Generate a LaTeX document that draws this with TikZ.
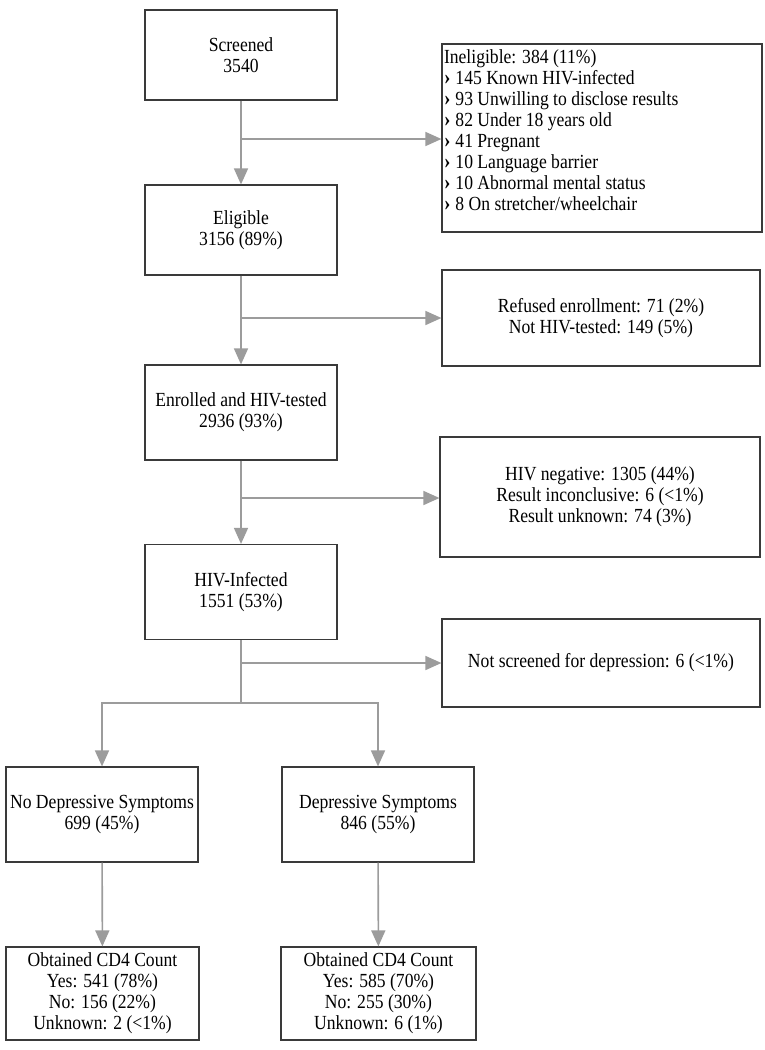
\documentclass[tikz,border=0pt]{standalone}
\usepackage{fontspec}
\setmainfont{Liberation Serif}[FakeStretch=0.88]
\usetikzlibrary{arrows.meta}
\definecolor{linegrey}{HTML}{9C9C9C}
\definecolor{boxline}{HTML}{3A3A3A}
\newcommand{\chev}{{\bfseries\fontsize{22}{21}\selectfont ›}\hspace{5pt}}
\begin{document}
\begin{tikzpicture}[x=1pt,y=-1pt,
  box/.style={draw=boxline,line width=1.2pt,align=center,inner sep=0pt,font=\fontsize{20}{21}\selectfont},
  conn/.style={draw=linegrey,line width=1.6pt},
  arr/.style={conn,-{Triangle[length=16pt,width=14pt,fill=linegrey]}}]
\useasboundingbox[fill=white] (0,0) rectangle (765,1050);

\node[box,minimum width=192pt,minimum height=90pt] (scr) at (241,55) {Screened\\3540};
\node[box,minimum width=320pt,minimum height=188pt] (inel) at (602,138)
  {\begin{minipage}[c][176pt][t]{316pt}\raggedright
   Ineligible: 384 (11\%)\\
   \chev 145 Known HIV-infected\\
   \chev 93 Unwilling to disclose results\\
   \chev 82 Under 18 years old\\
   \chev 41 Pregnant\\
   \chev 10 Language barrier\\
   \chev 10 Abnormal mental status\\
   \chev 8 On stretcher/wheelchair
   \end{minipage}};
\node[box,minimum width=192pt,minimum height=90pt] (elig) at (241,230) {Eligible\\3156 (89\%)};
\node[box,minimum width=318pt,minimum height=96pt] (ref) at (601,318) {Refused enrollment: 71 (2\%)\\Not HIV-tested: 149 (5\%)};
\node[box,minimum width=192pt,minimum height=95pt] (enr) at (241,412.5) {Enrolled and HIV-tested\\2936 (93\%)};
\node[box,minimum width=320pt,minimum height=120pt] (neg) at (600,497) {HIV negative: 1305 (44\%)\\Result inconclusive: 6 (<1\%)\\Result unknown: 74 (3\%)};
\node[box,minimum width=192pt,minimum height=95pt] (hiv) at (241,592) {HIV-Infected\\1551 (53\%)};
\node[box,minimum width=318pt,minimum height=88pt] (nsc) at (601,663) {Not screened for depression: 6 (<1\%)};
\node[box,minimum width=192pt,minimum height=95pt] (nodep) at (102,814.5) {No Depressive Symptoms\\699 (45\%)};
\node[box,minimum width=192pt,minimum height=95pt] (dep) at (378,814.5) {Depressive Symptoms\\846 (55\%)};
\node[box,minimum width=193pt,minimum height=93pt] (cda) at (102.5,993.5) {Obtained CD4 Count\\Yes: 541 (78\%)\\No: 156 (22\%)\\Unknown: 2 (<1\%)};
\node[box,minimum width=195pt,minimum height=93pt] (cdb) at (378.5,993.5) {Obtained CD4 Count\\Yes: 585 (70\%)\\No: 255 (30\%)\\Unknown: 6 (1\%)};

\coordinate (b1) at (241,139);
\coordinate (b2) at (241,318);
\coordinate (b3) at (241,498);
\coordinate (b4) at (241,663);
\coordinate (sp) at (241,703);

\draw[arr] (scr) -- (elig);
\draw[arr] (b1) -- (inel.west |- b1);
\draw[arr] (elig) -- (enr);
\draw[arr] (b2) -- (ref.west |- b2);
\draw[arr] (enr) -- (hiv);
\draw[arr] (b3) -- (neg.west |- b3);
\draw[conn] (hiv) -- (sp);
\draw[arr] (b4) -- (nsc.west |- b4);
\draw[arr] (sp) -| (nodep.north);
\draw[arr] (sp) -| (dep.north);
\draw[arr] (nodep) -- (cda);
\draw[arr] (dep) -- (cdb);
\end{tikzpicture}
\end{document}
